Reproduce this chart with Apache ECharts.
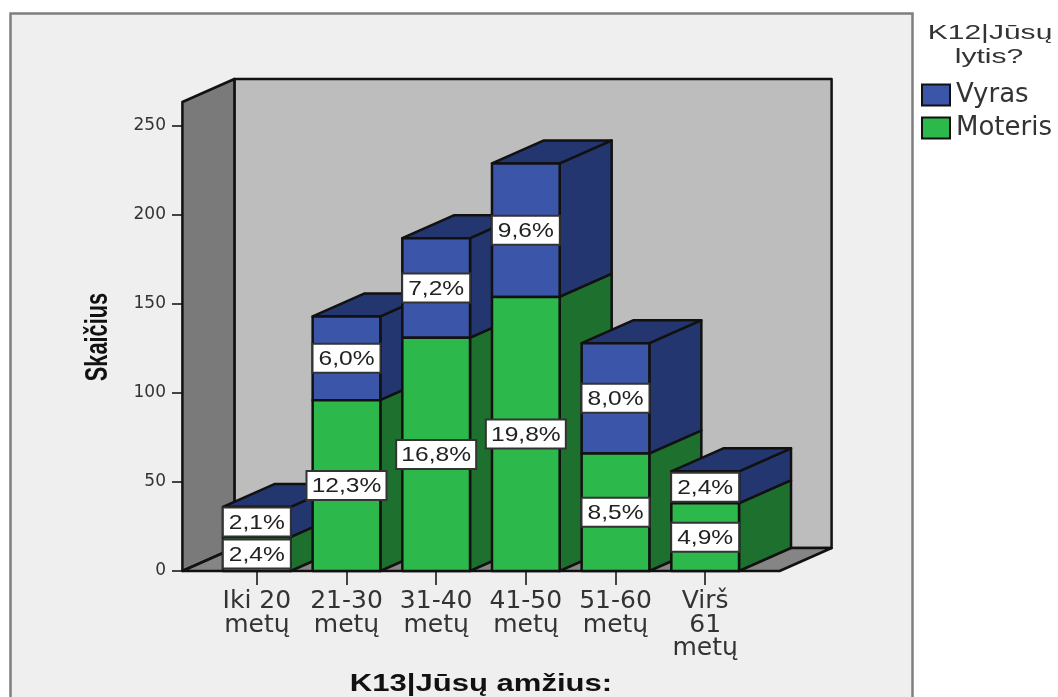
<!DOCTYPE html>
<html><head><meta charset="utf-8">
<style>html,body{margin:0;padding:0;background:#fff}#c{width:1058px;height:697px}</style>
<script src="https://cdn.jsdelivr.net/npm/echarts@6/dist/echarts.min.js"></script>
</head><body><div id="c"></div>
<script>
const categories = ['Iki 20\nmetų','21-30\nmetų','31-40\nmetų','41-50\nmetų','51-60\nmetų','Virš\n61\nmetų'];
const moteris = [19, 96, 131, 154, 66, 38];
const vyras = [17, 47, 56, 75, 62, 18];
const moterisPct = ['2,4%','12,3%','16,8%','19,8%','8,5%','4,9%'];
const vyrasPct = ['2,1%','6,0%','7,2%','9,6%','8,0%','2,4%'];
const yTicks = [0,50,100,150,200,250];
const yMax = 263.5;

const DX = 52, DY = -23, STROKE = '#111', SW = 2.5;
const C = {wallL:'#7a7a7a', wallB:'#bdbdbd', floor:'#858585',
  blue:'#3b56a8', blueD:'#24366f', green:'#2db84b', greenD:'#1e702e'};
const poly = (pts, fill, sw) => ({type:'polygon', shape:{points:pts},
  style:{fill, stroke:STROKE, lineWidth:sw||SW, lineJoin:'round'}});

function renderWalls(params, api){
  const o = api.coord([0,0]), t = api.coord([0,yMax]), band = api.size([1,0])[0];
  const last = api.coord([categories.length-1,0]);
  const pad = band*0.83;
  const L = o[0]-pad, R = last[0]+pad, B = o[1], T = t[1];
  return {type:'group', children:[
    poly([[L+DX,B+DY],[R+DX,B+DY],[R+DX,T+DY],[L+DX,T+DY]], C.wallB),
    poly([[L,B],[L+DX,B+DY],[L+DX,T+DY],[L,T]], C.wallL),
    poly([[L,B],[R,B],[R+DX,B+DY],[L+DX,B+DY]], C.floor)
  ]};
}
function seg(x0,x1,yb,yt,front,dark,top){
  const out=[];
  out.push(poly([[x1,yb],[x1+DX,yb+DY],[x1+DX,yt+DY],[x1,yt]],dark));
  if(top) out.push(poly([[x0,yt],[x1,yt],[x1+DX,yt+DY],[x0+DX,yt+DY]],dark));
  out.push(poly([[x0,yb],[x1,yb],[x1,yt],[x0,yt]],front));
  return out;
}
function renderBars(params, api){
  const i = api.value(0), f = api.value(1), m = api.value(2);
  const w = api.size([1,0])[0]*0.755;
  const p0 = api.coord([i,0]), p1 = api.coord([i,f]), p2 = api.coord([i,f+m]);
  const x0 = p0[0]-w/2, x1 = p0[0]+w/2;
  return {type:'group', children:[
    ...seg(x0,x1,p1[1],p2[1],C.blue,C.blueD,true),
    ...seg(x0,x1,p0[1],p1[1],C.green,C.greenD,false)
  ]};
}
function renderLabel(params, api){
  const i = api.value(0), base = api.value(1), v = api.value(2);
  const text = api.value(3);
  const p = api.coord([i, base+v/2]);
  const bw = text.length>4 ? 80 : 68, bh = 29;
  return {type:'group', children:[
    {type:'rect', shape:{x:p[0]-bw/2,y:p[1]-bh/2,width:bw,height:bh},
      style:{fill:'#fff',stroke:'#333',lineWidth:2}},
    {type:'text', x:p[0], y:p[1]+1, scaleX:1.17,
      style:{text, align:'center', verticalAlign:'middle', fill:'#222',
        font:'21px "Liberation Sans"'}}
  ]};
}
const rowsBars = categories.map((_,i)=>[i,moteris[i],vyras[i]]);
const rowsF = categories.map((_,i)=>[i,0,moteris[i],moterisPct[i]]);
const rowsM = categories.map((_,i)=>[i,moteris[i],vyras[i],vyrasPct[i]]);

const chart = echarts.init(document.getElementById('c'), null, {renderer:'canvas'});
chart.setOption({
  animation:false,
  backgroundColor:'#fff',
  grid:{left:212, width:538, top:102, height:469},
  graphic:[
    {type:'rect', z:-10, shape:{x:10.5,y:13.5,width:902,height:700},
      style:{fill:'#efefef',stroke:'#7f7f7f',lineWidth:2.5}},
    {type:'text', x:481, y:685, scaleX:1.35, z:5,
      style:{text:'K13|Jūsų amžius:', align:'center', verticalAlign:'middle',
        fill:'#111', font:'bold 23px "Liberation Sans"'}},
    {type:'text', x:98, y:337, rotation:Math.PI/2, scaleX:0.68, z:5,
      style:{text:'Skaičius', align:'center', verticalAlign:'middle',
        fill:'#111', font:'bold 32px "Liberation Sans"'}},
    {type:'text', x:990, y:33, scaleX:1.43, z:5,
      style:{text:'K12|Jūsų', align:'center', verticalAlign:'middle',
        fill:'#333', font:'21px "Liberation Sans"'}},
    {type:'text', x:989, y:57, scaleX:1.43, z:5,
      style:{text:'lytis?', align:'center', verticalAlign:'middle',
        fill:'#333', font:'21px "Liberation Sans"'}}
  ],
  legend:{data:['Vyras','Moteris'], orient:'vertical', left:921, top:82, padding:0,
    itemWidth:28, itemHeight:21, itemGap:7, icon:'rect',
    selectedMode:false,
    itemStyle:{borderColor:'#111',borderWidth:2},
    textStyle:{fontFamily:'DejaVu Sans',fontSize:26,color:'#333',padding:[0,0,0,1]}},
  xAxis:{type:'category', data:categories,
    axisLine:{show:false},
    axisTick:{show:true,alignWithLabel:true,length:14,lineStyle:{color:'#444',width:2}},
    axisLabel:{interval:0,margin:19,fontFamily:'DejaVu Sans',fontSize:25,lineHeight:23.5,color:'#333'}},
  yAxis:{type:'value', min:0, max:yMax, interval:50, offset:29,
    axisLine:{show:false},
    splitLine:{show:false},
    axisTick:{show:true,length:11,customValues:yTicks,lineStyle:{color:'#444',width:2}},
    axisLabel:{customValues:yTicks,margin:17,padding:[4,0,0,0],fontFamily:'DejaVu Sans',fontSize:17,color:'#333'}},
  series:[
    {type:'custom',name:'walls',renderItem:renderWalls,data:[[0]],z:1,silent:true,encode:{x:0}},
    {type:'custom',name:'bars',renderItem:renderBars,data:rowsBars,z:2,silent:true,encode:{x:0,y:[1,2]}},
    {type:'custom',name:'Vyras',renderItem:renderLabel,data:rowsM,z:3,silent:true,itemStyle:{color:C.blue},encode:{x:0,y:1}},
    {type:'custom',name:'Moteris',renderItem:renderLabel,data:rowsF,z:3,silent:true,itemStyle:{color:C.green},encode:{x:0,y:1}}
  ]
});
</script></body></html>
